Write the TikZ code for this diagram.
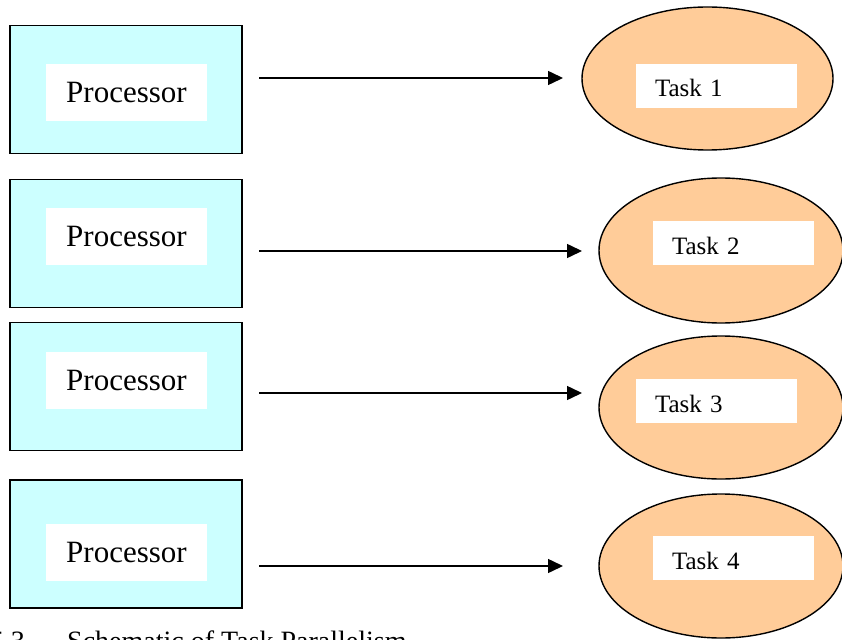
\documentclass[tikz,border=0pt]{standalone}
\usepackage{fontspec}
\setmainfont{Liberation Serif}
\usetikzlibrary{arrows.meta,shapes.geometric}
\definecolor{procfill}{HTML}{CCFFFF}
\definecolor{taskfill}{HTML}{FFCC99}
\tikzset{
  procbox/.style={draw=black, line width=1.8pt, fill=procfill, rectangle,
    minimum width=232pt, minimum height=128pt, inner sep=0pt},
  proclabel/.style={fill=white, rectangle, minimum width=161pt, minimum height=57pt,
    inner sep=0pt, font=\fontsize{31}{37}\selectfont, text height=20pt, text depth=0pt},
  taskshape/.style={draw=black, line width=1.4pt, fill=taskfill, ellipse,
    inner sep=0pt},
  tasklabel/.style={fill=white, rectangle, minimum height=44pt, inner ysep=0pt,
    inner xsep=19pt, text width=123pt, align=left,
    font=\fontsize{25}{30}\selectfont, text height=22pt, text depth=0pt},
  link/.style={line width=1.5pt, -{Triangle[length=15pt, width=14pt]}},
  caption/.style={font=\fontsize{28}{34}\selectfont, inner sep=0pt}
}
\begin{document}
\begin{tikzpicture}[x=1pt, y=-1pt]
  \useasboundingbox (0,0) rectangle (842,639);
  \clip (0,0) rectangle (842,639);
  \fill[white] (0,0) rectangle (842,639);

  % processor boxes with their white label panels
  \node[procbox] (p1) at (126,89.5) {};
  \node[proclabel] (pl1) at (126.5,92.5) {Processor};
  \node[procbox] (p2) at (126,243.5) {};
  \node[proclabel] (pl2) at (126.5,236) {Processor};
  \node[procbox] (p3) at (126,386.5) {};
  \node[proclabel] (pl3) at (126.5,380) {Processor};
  \node[procbox] (p4) at (126,544) {};
  \node[proclabel] (pl4) at (126.5,552) {Processor};

  % task ellipses
  \node[taskshape, minimum width=251pt, minimum height=143pt] (t1) at (707.5,78.5) {};
  \node[tasklabel] (tl1) at (716.5,86) {Task 1};
  \node[taskshape, minimum width=244pt, minimum height=145pt] (t2) at (721,250.5) {};
  \node[tasklabel] (tl2) at (733.5,243) {Task 2};
  \node[taskshape, minimum width=244pt, minimum height=143pt] (t3) at (721,407.5) {};
  \node[tasklabel] (tl3) at (716.5,401) {Task 3};
  \node[taskshape, minimum width=244pt, minimum height=144pt] (t4) at (721,566) {};
  \node[tasklabel] (tl4) at (733.5,558) {Task 4};

  % arrow end points
  \coordinate (a1s) at (259,78);  \coordinate (a1e) at (563,78);
  \coordinate (a2s) at (259,251); \coordinate (a2e) at (582,251);
  \coordinate (a3s) at (259,393); \coordinate (a3e) at (582,393);
  \coordinate (a4s) at (259,566); \coordinate (a4e) at (563,566);
  \draw[link] (a1s) -- (a1e);
  \draw[link] (a2s) -- (a2e);
  \draw[link] (a3s) -- (a3e);
  \draw[link] (a4s) -- (a4e);

  % caption, running off the lower edge of the page
  \node[caption, anchor=base east] (cn) at (25,650) {5.3};
  \node[caption, anchor=base west] (ct) at (67,650) {Schematic of Task Parallelism};
\end{tikzpicture}
\end{document}
